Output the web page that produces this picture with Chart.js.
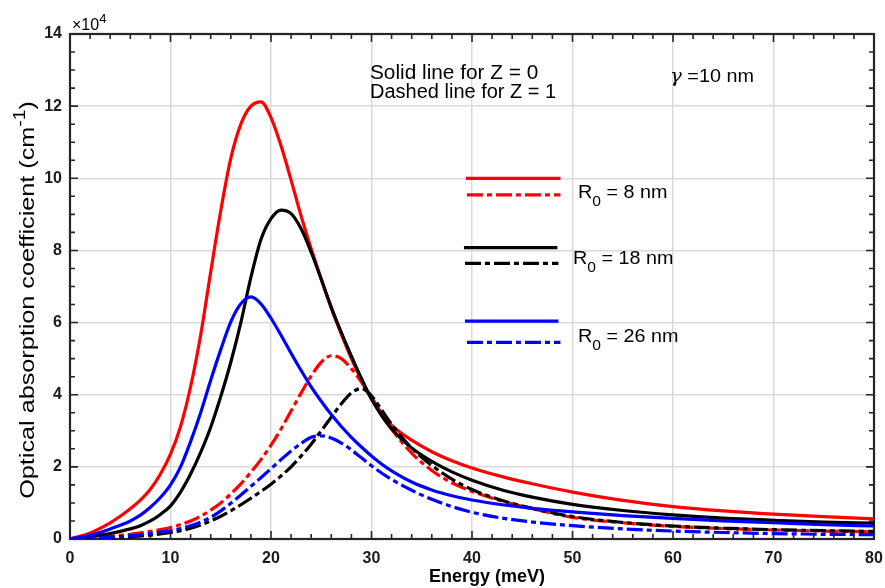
<!DOCTYPE html>
<html>
<head>
<meta charset="utf-8">
<script src="https://cdn.jsdelivr.net/npm/chart.js@4.4.1/dist/chart.umd.min.js"></script>
<style>
  html, body { margin: 0; padding: 0; background: #ffffff; }
  #wrap { width: 885px; height: 588px; }
</style>
</head>
<body>
<div id="wrap"><canvas id="chart" width="885" height="588"></canvas></div>
<script>
// Photon energy (meV)
const energy = [0, 2, 4, 5, 6, 7, 8, 9, 10, 11, 12, 13, 14, 15, 16, 17, 18, 19, 20, 21, 22, 23,
                24, 25, 26, 27, 28, 29, 30, 31, 32, 34, 36, 38, 40, 43, 46, 50, 55, 60, 65, 70, 75, 80];

// Absorption coefficient, in units of 10^4 cm^-1
// R0 = 8 nm
const r8Z0 = [0, 0.17, 0.45, 0.63, 0.84, 1.08, 1.38, 1.8, 2.35, 3.12, 4.22, 5.65, 7.4, 9.1, 10.55, 11.5,
              12.0, 12.12, 11.68, 10.9, 9.95, 8.95, 8.05, 7.2, 6.4, 5.68, 5.0, 4.4, 3.88, 3.47, 3.15,
              2.74, 2.42, 2.17, 1.97, 1.73, 1.53, 1.3, 1.07, 0.9, 0.78, 0.69, 0.62, 0.56];
const r8Z1 = [0, 0.03, 0.07, 0.1, 0.13, 0.17, 0.21, 0.26, 0.32, 0.4, 0.5, 0.63, 0.8, 1.0, 1.25, 1.53,
              1.85, 2.2, 2.6, 3.05, 3.55, 4.05, 4.52, 4.9, 5.08, 5.0, 4.72, 4.35, 3.93, 3.48, 3.05,
              2.38, 1.9, 1.56, 1.32, 1.05, 0.84, 0.6, 0.45, 0.35, 0.29, 0.25, 0.22, 0.2];
// R0 = 18 nm
const r18Z0 = [0, 0.06, 0.15, 0.21, 0.28, 0.37, 0.5, 0.68, 0.92, 1.3, 1.8, 2.4, 3.1, 3.95, 4.9, 6.0,
               7.25, 8.3, 8.88, 9.12, 9.02, 8.6, 7.95, 7.2, 6.42, 5.72, 5.07, 4.45, 3.88, 3.42, 3.05,
               2.52, 2.15, 1.86, 1.63, 1.36, 1.16, 0.96, 0.79, 0.67, 0.58, 0.52, 0.47, 0.44];
const r18Z1 = [0, 0.01, 0.03, 0.045, 0.06, 0.085, 0.11, 0.14, 0.18, 0.23, 0.3, 0.39, 0.5, 0.63, 0.78, 0.95,
               1.13, 1.32, 1.52, 1.75, 2.0, 2.3, 2.63, 3.0, 3.38, 3.75, 4.05, 4.17, 3.97, 3.58, 3.18,
               2.52, 2.04, 1.66, 1.37, 1.07, 0.85, 0.62, 0.46, 0.36, 0.3, 0.26, 0.23, 0.21];
// R0 = 26 nm
const r26Z0 = [0, 0.1, 0.28, 0.38, 0.5, 0.66, 0.88, 1.15, 1.5, 2.0, 2.7, 3.5, 4.4, 5.25, 6.02, 6.52,
               6.71, 6.52, 6.12, 5.65, 5.15, 4.67, 4.22, 3.82, 3.45, 3.12, 2.82, 2.55, 2.3, 2.08, 1.89,
               1.58, 1.36, 1.2, 1.08, 0.95, 0.85, 0.75, 0.65, 0.57, 0.5, 0.45, 0.4, 0.36];
const r26Z1 = [0, 0.02, 0.05, 0.07, 0.09, 0.12, 0.15, 0.19, 0.23, 0.29, 0.37, 0.47, 0.6, 0.78, 0.99, 1.22,
               1.46, 1.7, 1.95, 2.2, 2.44, 2.65, 2.82, 2.86, 2.8, 2.66, 2.47, 2.25, 2.03, 1.83, 1.65,
               1.35, 1.1, 0.9, 0.74, 0.58, 0.47, 0.37, 0.28, 0.22, 0.18, 0.15, 0.13, 0.12];

// Axis ranges and tick spacing
const xRange = [0, 80], xMajor = 10, xMinor = 2;
const yRange = [0, 14], yMajor = 2, yMinor = 0.5;

const FONT = '"Liberation Sans", Arial, Helvetica, sans-serif';
const AXIS_COLOR = '#262626';
const GRID_COLOR = '#d9d9d9';
const DASH = [16, 4, 5, 4];
const RED = '#ff0000', BLACK = '#000000', BLUE = '#0000ff';

const seriesStyle = [
  { data: r8Z0,  color: RED,   dash: [],   order: 6 },
  { data: r8Z1,  color: RED,   dash: DASH, order: 5 },
  { data: r18Z0, color: BLACK, dash: [],   order: 4 },
  { data: r18Z1, color: BLACK, dash: DASH, order: 3 },
  { data: r26Z0, color: BLUE,  dash: [],   order: 2 },
  { data: r26Z1, color: BLUE,  dash: DASH, order: 1 }
];

// Key lines (axis units) and their captions
const keyLines = [
  { x0: 39.4, x1: 48.8, y: 10.0, color: RED,   dash: [] },
  { x0: 39.5, x1: 48.8, y: 9.54, color: RED,   dash: DASH },
  { x0: 39.2, x1: 48.5, y: 8.08, color: BLACK, dash: [] },
  { x0: 39.3, x1: 48.6, y: 7.64, color: BLACK, dash: DASH },
  { x0: 39.3, x1: 48.6, y: 6.04, color: BLUE,  dash: [] },
  { x0: 39.5, x1: 48.8, y: 5.45, color: BLUE,  dash: DASH }
];
const keyCaptions = [
  { x: 578, y: 198, size: '8' },
  { x: 573, y: 264, size: '18' },
  { x: 578, y: 342, size: '26' }
];

// Draws a run of text pieces (with optional sub/superscripts) as canvas text.
function drawRich(ctx, x, y, runs, o) {
  const size = o.size, weight = o.weight || 'normal';
  ctx.save();
  ctx.translate(x, y);
  if (o.rotate) ctx.rotate(o.rotate);
  if (o.stretch) ctx.scale(o.stretch, 1);
  let total = 0;
  const pieces = runs.map(r => {
    const s = (r.sub || r.sup) ? Math.round(size * (r.scale || 0.72)) : size;
    const font = `${r.italic ? 'italic ' : ''}${weight} ${s}px ${r.family || FONT}`;
    ctx.font = font;
    const w = ctx.measureText(r.t).width;
    total += w + (r.gap || 0);
    return { ...r, font, w };
  });
  let cx = o.align === 'center' ? -total / 2 : 0;
  ctx.fillStyle = o.color || '#000';
  ctx.textAlign = 'left';
  ctx.textBaseline = 'alphabetic';
  for (const p of pieces) {
    ctx.font = p.font;
    const dy = p.sub ? size * 0.42 : (p.sup ? -size * 0.42 : 0);
    ctx.fillText(p.t, cx, dy);
    cx += p.w + (p.gap || 0);
  }
  ctx.restore();
}

// Box with inward ticks on all four sides
const framePlugin = {
  id: 'frame',
  beforeDatasetsDraw(chart) {
    const { ctx, chartArea: a, scales: { x, y } } = chart;
    ctx.save();
    ctx.strokeStyle = AXIS_COLOR;
    ctx.lineWidth = 1.6;
    ctx.beginPath();
    for (let v = xRange[0]; v <= xRange[1] + 1e-9; v += xMinor) {
      const px = x.getPixelForValue(v);
      const len = Math.abs(v / xMajor - Math.round(v / xMajor)) < 1e-6 ? 8 : 5;
      ctx.moveTo(px, a.bottom); ctx.lineTo(px, a.bottom - len);
      ctx.moveTo(px, a.top);    ctx.lineTo(px, a.top + len);
    }
    for (let v = yRange[0]; v <= yRange[1] + 1e-9; v += yMinor) {
      const py = y.getPixelForValue(v);
      const len = Math.abs(v / yMajor - Math.round(v / yMajor)) < 1e-6 ? 8 : 5;
      ctx.moveTo(a.left, py);  ctx.lineTo(a.left + len, py);
      ctx.moveTo(a.right, py); ctx.lineTo(a.right - len, py);
    }
    ctx.stroke();
    ctx.lineWidth = 2.2;
    ctx.strokeRect(a.left, a.top, a.right - a.left, a.bottom - a.top);
    ctx.restore();
  }
};

// Key, notes and axis titles
const notesPlugin = {
  id: 'notes',
  afterDatasetsDraw(chart) {
    const { ctx, scales: { x, y } } = chart;
    ctx.save();
    ctx.lineWidth = 3.2;
    ctx.lineCap = 'butt';
    for (const k of keyLines) {
      ctx.strokeStyle = k.color;
      ctx.setLineDash(k.dash);
      ctx.beginPath();
      ctx.moveTo(x.getPixelForValue(k.x0), y.getPixelForValue(k.y));
      ctx.lineTo(x.getPixelForValue(k.x1), y.getPixelForValue(k.y));
      ctx.stroke();
    }
    ctx.setLineDash([]);
    ctx.restore();

    for (const c of keyCaptions) {
      drawRich(ctx, c.x, c.y, [
        { t: 'R' }, { t: '0', sub: true, scale: 0.8 }, { t: ' = ' + c.size + ' nm' }
      ], { size: 19, stretch: 1.04 });
    }

    drawRich(ctx, 370, 79, [{ t: 'Solid line for Z = 0' }], { size: 20, stretch: 1.04 });
    drawRich(ctx, 370, 97.5, [{ t: 'Dashed line for Z = 1' }], { size: 20 });
    drawRich(ctx, 670, 82, [{ t: 'γ', italic: true, family: '"DejaVu Serif", serif' }, { t: ' =10 nm' }],
             { size: 18, stretch: 1.1 });
  },
  afterDraw(chart) {
    const { ctx } = chart;
    // exponent of the y axis
    drawRich(ctx, 72, 30, [{ t: '×10' }, { t: '4', sup: true, scale: 0.8 }], { size: 16 });
    // axis titles
    drawRich(ctx, 34, 300, [
      { t: 'Optical absorption coefficient (cm' }, { t: '-1', sup: true, scale: 0.75 }, { t: ')' }
    ], { size: 21, rotate: -Math.PI / 2, align: 'center', stretch: 1.2 });
    drawRich(ctx, 487, 582, [{ t: 'Energy (meV)' }], { size: 18, weight: 'bold', align: 'center' });
  }
};

const datasets = seriesStyle.map(s => ({
  data: energy.map((e, i) => ({ x: e, y: s.data[i] })),
  borderColor: s.color,
  borderWidth: 3.2,
  borderDash: s.dash,
  borderCapStyle: 'butt',
  borderJoinStyle: 'round',
  pointRadius: 0,
  fill: false,
  cubicInterpolationMode: 'monotone',
  order: s.order
}));

new Chart(document.getElementById('chart'), {
  type: 'line',
  data: { datasets },
  options: {
    responsive: false,
    animation: false,
    devicePixelRatio: 1,
    layout: { padding: { top: 34, right: 11, left: 0, bottom: 0 } },
    plugins: { legend: { display: false }, tooltip: { enabled: false } },
    scales: {
      x: {
        type: 'linear', min: xRange[0], max: xRange[1],
        ticks: { stepSize: xMajor, padding: 10, color: '#1a1a1a', font: { family: FONT, size: 16, weight: 'bold' } },
        grid: { color: GRID_COLOR, lineWidth: 1.5, drawTicks: false },
        border: { display: false },
        afterFit(scale) { scale.height = 49; scale.paddingLeft = 0; scale.paddingRight = 0; }
      },
      y: {
        type: 'linear', min: yRange[0], max: yRange[1],
        ticks: { stepSize: yMajor, padding: 8, color: '#1a1a1a', font: { family: FONT, size: 16, weight: 'bold' } },
        grid: { color: GRID_COLOR, lineWidth: 1.5, drawTicks: false },
        border: { display: false },
        afterFit(scale) { scale.width = 70; scale.paddingTop = 0; scale.paddingBottom = 0; }
      }
    }
  },
  plugins: [framePlugin, notesPlugin]
});
</script>
</body>
</html>
